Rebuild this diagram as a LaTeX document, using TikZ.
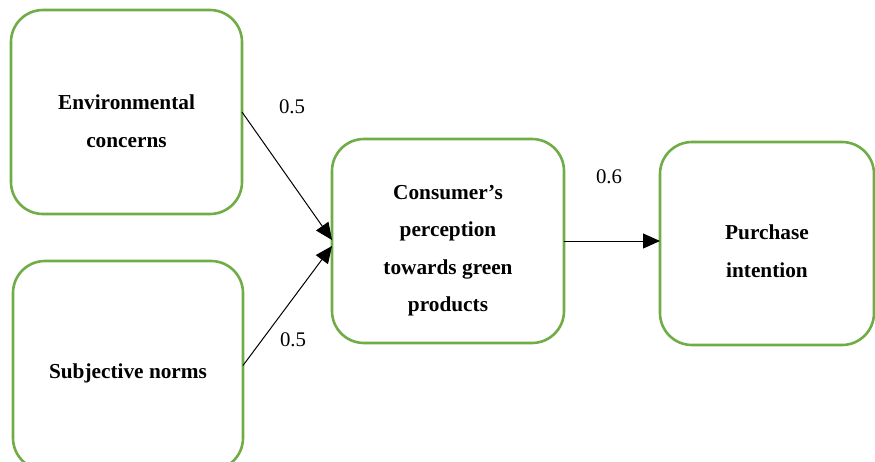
\documentclass[tikz,border=0pt]{standalone}
\usepackage{fontspec}
\setmainfont{Liberation Serif}
\usetikzlibrary{arrows.meta,calc}
\definecolor{boxgreen}{HTML}{70AD47}
\begin{document}
\begin{tikzpicture}[x=1pt,y=-1pt,
  box/.style={draw=boxgreen, line width=2.6pt, rounded corners=32pt, inner sep=0pt, outer sep=0pt, fill=white},
  txt/.style={font=\bfseries\fontsize{21.3}{37.5}\selectfont, align=center, inner sep=0pt},
  num/.style={font=\fontsize{20.8}{24}\selectfont, inner sep=0pt},
  arr/.style={line width=1pt, -{Triangle[length=17pt,width=15pt]}}]
\useasboundingbox (0,0) rectangle (875,461);
\fill[white] (0,0) rectangle (875,461);
% boxes
\node[box, minimum width=231pt, minimum height=204pt] (env) at (126.5,112) {};
\node[box, minimum width=230pt, minimum height=209pt] (subj) at (128,365.5) {};
\node[box, minimum width=232pt, minimum height=204pt] (cons) at (448,241) {};
\node[box, minimum width=214pt, minimum height=203pt] (purch) at (767,243.5) {};
% texts
\node[txt] (envt) at ($(env.center)+(0,9)$) {Environmental\\concerns};
\node[txt] (subjt) at ($(subj.center)+(0,7.5)$) {Subjective norms};
\node[txt] (const) at ($(cons.center)+(0,9.5)$) {Consumer’s\\perception\\towards green\\products};
\node[txt] (purcht) at ($(purch.center)+(0,7.5)$) {Purchase\\intention};
% connectors
\draw[arr] (env.east) -- ($(cons.west)+(0,-1)$);
\draw[arr] (subj.east) -- ($(cons.west)+(0,5)$);
\draw[arr] (cons.east) -- (cons.east -| purch.west);
% labels
\node[num] (l1) at (292,107) {0.5};
\node[num] (l2) at (293,340) {0.5};
\node[num] (l3) at (609,177) {0.6};
\end{tikzpicture}
\end{document}
